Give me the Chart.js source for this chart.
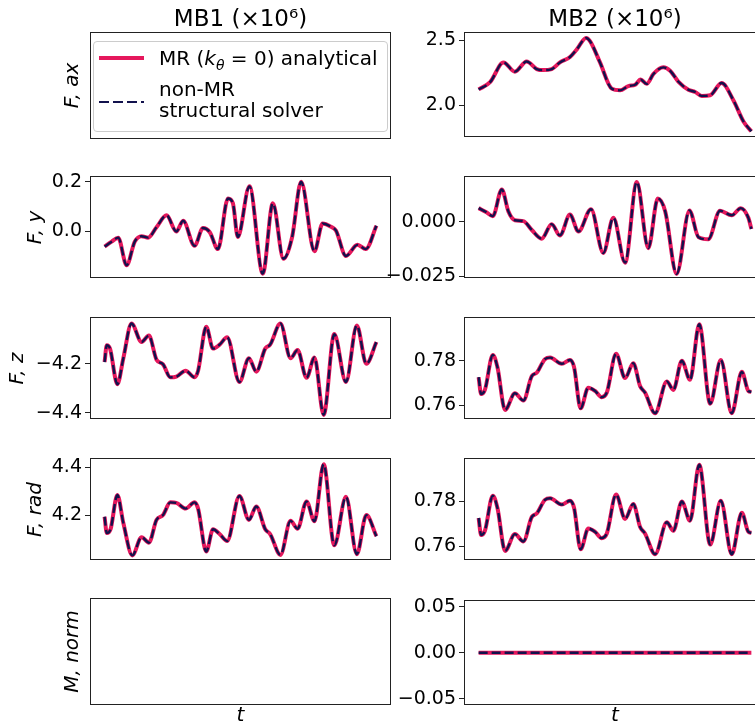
<!DOCTYPE html>
<html lang="en">
<head>
<meta charset="UTF-8">
<title>MB1 / MB2 loads: MR analytical vs non-MR structural solver</title>
<script src="https://cdn.jsdelivr.net/npm/chart.js@4.4.0/dist/chart.umd.min.js"></script>
<style>
    html, body { margin: 0; padding: 0; background: #fff; }
    #fig { position: relative; width: 755px; height: 725px; overflow: hidden; font-family: 'DejaVu Sans', sans-serif; color: #000; }
    #fig canvas { position: absolute; }
    #legend { position: absolute; left: 93px; top: 41px; width: 293px; height: 89px; border: 1px solid #cccccc; border-radius: 4px; background: rgba(255,255,255,0.8); z-index: 5; font-size: 20px; }
    #legend .sw { position: absolute; left: 5px; width: 45px; }
    #legend .txt { position: absolute; left: 65px; line-height: 21px; white-space: nowrap; }
    #legend .sub { font-size: 14px; position: relative; top: 5px; font-style: italic; }
</style>
</head>
<body>
<div id="fig">
    <div id="legend">
        <div class="sw" id="swAnalytical" style="top:14px;height:3.5px"></div>
        <div class="txt" style="top:5.6px">MR (<i>k</i><span class="sub">θ</span> = 0) analytical</div>
        <div class="sw" id="swSolver" style="top:59px;height:2.4px"></div>
        <div class="txt" style="top:37.3px">non-MR<br>structural solver</div>
    </div>
</div>
<script>
    // time axis runs 0..100 (no ticks shown) (x10^6)
    // the analytical and solver curves coincide, so both use the same arrays

    // MB2, F_ax
    const mb2AxT = [0, 4.2, 9.1, 13.3, 17.6, 21.3, 23.7, 26.8, 29.8, 33.5, 36.0, 39.4, 40.9, 44.5, 48.8, 51.9, 54.9, 57.4, 59.4, 61.6, 64.1, 67.7, 70.2, 73.2, 76.9, 79.4, 81.8, 84.9, 89.1, 93.4, 97.1, 100];
    const mb2AxV = [2.121, 2.177, 2.329, 2.258, 2.336, 2.278, 2.270, 2.278, 2.329, 2.371, 2.430, 2.518, 2.492, 2.329, 2.127, 2.114, 2.147, 2.157, 2.197, 2.164, 2.240, 2.291, 2.265, 2.182, 2.119, 2.101, 2.071, 2.076, 2.170, 2.038, 1.874, 1.798];

    // MB1, F_y
    const mb1FyT = [0, 2.6, 5.0, 8.1, 11.1, 13.6, 16.0, 19.1, 22.8, 26.4, 28.9, 33.1, 36.2, 38.7, 41.7, 45.4, 47.2, 49.0, 53.3, 58.2, 61.9, 65.8, 69.0, 72.3, 77.2, 80.2, 83.3, 85.1, 88.8, 93.0, 96.1, 100];
    const mb1FyV = [-0.061, -0.041, -0.025, -0.136, -0.041, -0.019, -0.025, 0.017, 0.065, 0.000, 0.043, -0.058, 0.014, -0.003, -0.071, 0.133, 0.114, -0.022, 0.182, -0.170, 0.114, -0.110, -0.022, 0.200, -0.080, 0.032, 0.019, 0.004, -0.099, -0.054, -0.071, 0.023];

    // MB2, F_y
    const mb2FyT = [0, 2.7, 5.2, 8.5, 10.9, 13.3, 16.4, 19.5, 23.1, 26.8, 29.8, 33.5, 36.6, 41.2, 45.7, 49.4, 53.7, 58.0, 62.2, 65.7, 68.4, 72.6, 77.3, 80.6, 84.2, 88.5, 92.8, 96.1, 98.9, 100];
    const mb2FyV = [0.0064, 0.0046, 0.0027, 0.0150, 0.0049, 0.0008, 0.0004, -0.0037, -0.0077, -0.0010, -0.0062, 0.0034, -0.0044, 0.0059, -0.0143, 0.0019, -0.0188, 0.0185, -0.0121, 0.0108, 0.0049, -0.0240, 0.0053, -0.0070, -0.0080, 0.0052, 0.0031, 0.0064, 0.0019, -0.0032];

    // MB1, F_z
    const mb1FzT = [0, 0.8, 2.0, 4.7, 6.9, 9.9, 13.6, 16.3, 19.1, 21.5, 24.2, 26.4, 29.8, 33.1, 34.4, 37.4, 39.9, 42.3, 45.1, 49.6, 53.1, 55.8, 59.1, 60.9, 64.7, 68.4, 71.0, 74.3, 77.2, 80.6, 84.5, 88.8, 92.8, 96.3, 100];
    const mb1FzV = [-4.193, -4.124, -4.138, -4.283, -4.177, -4.036, -4.111, -4.085, -4.183, -4.202, -4.255, -4.252, -4.228, -4.255, -4.228, -4.049, -4.138, -4.122, -4.092, -4.274, -4.177, -4.232, -4.138, -4.122, -4.036, -4.177, -4.144, -4.257, -4.174, -4.408, -4.079, -4.274, -4.044, -4.200, -4.111];

    // MB2, F_z
    const mb2FzT = [0, 0.9, 2.3, 5.2, 6.9, 9.7, 13.3, 16.4, 19.5, 21.3, 24.3, 26.2, 30.5, 33.5, 35.0, 37.4, 40.2, 42.7, 45.1, 47.0, 50.4, 53.7, 56.7, 59.2, 61.0, 64.7, 69.0, 71.4, 74.5, 77.5, 80.9, 84.9, 88.8, 92.8, 96.5, 98.9, 100];
    const mb2FzV = [0.7726, 0.7650, 0.7669, 0.7826, 0.7771, 0.7579, 0.7654, 0.7621, 0.7731, 0.7746, 0.7807, 0.7814, 0.7786, 0.7803, 0.7771, 0.7586, 0.7679, 0.7664, 0.7636, 0.7657, 0.7831, 0.7722, 0.7789, 0.7686, 0.7657, 0.7564, 0.7707, 0.7669, 0.7800, 0.7714, 0.7964, 0.7607, 0.7803, 0.7564, 0.7750, 0.7664, 0.7660];

    // MB1, F_rad
    const mb1RadT = [0, 0.8, 2.2, 4.7, 6.9, 10.2, 13.6, 16.3, 19.1, 21.5, 24.2, 26.4, 29.8, 33.1, 34.4, 37.4, 39.9, 42.3, 45.1, 49.6, 53.1, 55.8, 59.1, 60.9, 64.7, 68.4, 71.0, 74.3, 77.2, 80.6, 84.5, 88.8, 92.8, 96.3, 100];
    const mb1RadV = [4.194, 4.126, 4.142, 4.285, 4.168, 4.033, 4.109, 4.086, 4.181, 4.201, 4.254, 4.252, 4.228, 4.254, 4.228, 4.049, 4.142, 4.122, 4.093, 4.281, 4.181, 4.237, 4.142, 4.122, 4.035, 4.177, 4.144, 4.258, 4.175, 4.413, 4.075, 4.277, 4.038, 4.201, 4.113];

    // MB2, F_rad (same trace as MB2 F_z in the figure)
    const mb2RadT = [0, 0.9, 2.3, 5.2, 6.9, 9.7, 13.3, 16.4, 19.5, 21.3, 24.3, 26.2, 30.5, 33.5, 35.0, 37.4, 40.2, 42.7, 45.1, 47.0, 50.4, 53.7, 56.7, 59.2, 61.0, 64.7, 69.0, 71.4, 74.5, 77.5, 80.9, 84.9, 88.8, 92.8, 96.5, 98.9, 100];
    const mb2RadV = [0.7726, 0.7650, 0.7669, 0.7826, 0.7771, 0.7579, 0.7654, 0.7621, 0.7731, 0.7746, 0.7807, 0.7814, 0.7786, 0.7803, 0.7771, 0.7586, 0.7679, 0.7664, 0.7636, 0.7657, 0.7831, 0.7722, 0.7789, 0.7686, 0.7657, 0.7564, 0.7707, 0.7669, 0.7800, 0.7714, 0.7964, 0.7607, 0.7803, 0.7564, 0.7750, 0.7664, 0.7660];

    // MB2, M_norm
    const mb2MnormT = [0, 100];
    const mb2MnormV = [0, 0];

    // tick values per panel
    const mb2AxTicks = [2.0, 2.5];
    const mb1FyTicks = [0.0, 0.2];
    const mb2FyTicks = [-0.025, 0.0];
    const mb1FzTicks = [-4.4, -4.2];
    const mb2FzTicks = [0.76, 0.78];
    const mb1RadTicks = [4.2, 4.4];
    const mb2RadTicks = [0.76, 0.78];
    const mb2MnormTicks = [-0.05, 0.0, 0.05];

    const colTitles = ['MB1 (×10⁶)', 'MB2 (×10⁶)'];
    const rowLabels = ['F, ax', 'F, y', 'F, z', 'F, rad', 'M, norm'];

    const PINK = '#e5175c';
    const NAVY = '#12124d';
    const FRAME = '#222222';

    document.getElementById('swAnalytical').style.background = PINK;
    document.getElementById('swSolver').style.background =
        `repeating-linear-gradient(90deg, ${NAVY} 0 10px, transparent 10px 14px)`;

    Chart.defaults.font.family = "'DejaVu Sans', sans-serif";
    Chart.defaults.color = '#000';

    // panel layout
    const rowTop = [33, 175, 316, 457, 599];
    const plotH = 105;
    const colGeom = [
        { canvasLeft: 0, yWidth: 91, canvasWidth: 393, padRight: 3 },
        { canvasLeft: 380, yWidth: 85, canvasWidth: 385, padRight: 0 }
    ];

    const panels = [
        { row: 0, col: 0, labelPad: 61 },
        { row: 0, col: 1, t: mb2AxT, v: mb2AxV, ticks: mb2AxTicks, dec: 1, min: 1.765, max: 2.556 },
        { row: 1, col: 0, labelPad: 24, t: mb1FyT, v: mb1FyV, ticks: mb1FyTicks, dec: 1, min: -0.186, max: 0.218 },
        { row: 1, col: 1, t: mb2FyT, v: mb2FyV, ticks: mb2FyTicks, dec: 3, min: -0.0257, max: 0.0206 },
        { row: 2, col: 0, labelPad: 6, t: mb1FzT, v: mb1FzV, ticks: mb1FzTicks, dec: 1, min: -4.423, max: -4.015 },
        { row: 2, col: 1, t: mb2FzT, v: mb2FzV, ticks: mb2FzTicks, dec: 2, min: 0.754, max: 0.799 },
        { row: 3, col: 0, labelPad: 24, t: mb1RadT, v: mb1RadV, ticks: mb1RadTicks, dec: 1, min: 4.0155, max: 4.433 },
        { row: 3, col: 1, t: mb2RadT, v: mb2RadV, ticks: mb2RadTicks, dec: 2, min: 0.754, max: 0.7988 },
        { row: 4, col: 0, labelPad: 61 },
        { row: 4, col: 1, t: mb2MnormT, v: mb2MnormV, ticks: mb2MnormTicks, dec: 2, min: -0.0556, max: 0.0556 }
    ];

    // draws the four-sided axes box
    const framePlugin = {
        id: 'frame',
        afterDatasetsDraw(chart) {
            const { ctx, chartArea: a } = chart;
            ctx.save();
            ctx.strokeStyle = FRAME;
            ctx.lineWidth = 1;
            ctx.strokeRect(Math.round(a.left) - 0.5, Math.round(a.top) - 0.5,
                Math.round(a.right - a.left) + 1, Math.round(a.bottom - a.top) + 1);
            ctx.restore();
        }
    };

    function fmt(v, dec) {
        return v.toFixed(dec).replace('-', '\u2212');
    }

    function toPoints(t, v) {
        return t.map((x, i) => ({ x: x, y: v[i] }));
    }

    const fig = document.getElementById('fig');

    panels.forEach(p => {
        const g = colGeom[p.col];
        const isTop = p.row === 0;
        const isBottom = p.row === 4;
        const padTop = isTop ? 0 : 12;
        const padBottom = isBottom ? 0 : 12;
        const xTitleH = isBottom ? 24 : 0;
        const canvasTop = isTop ? 0 : rowTop[p.row] - padTop;
        const canvasH = (isTop ? rowTop[0] : padTop) + plotH + padBottom + xTitleH;

        const canvas = document.createElement('canvas');
        canvas.width = g.canvasWidth;
        canvas.height = canvasH;
        canvas.style.left = g.canvasLeft + 'px';
        canvas.style.top = canvasTop + 'px';
        fig.appendChild(canvas);

        const hasData = !!p.t;
        const datasets = hasData ? [
            {
                label: 'non-MR structural solver',
                data: toPoints(p.t, p.v),
                borderColor: NAVY,
                borderWidth: 2.4,
                borderDash: [9, 4],
                borderCapStyle: 'butt',
                pointRadius: 0,
                cubicInterpolationMode: 'monotone',
                order: 1
            },
            {
                label: 'MR (k_θ = 0) analytical',
                data: toPoints(p.t, p.v),
                borderColor: PINK,
                borderWidth: 4,
                borderCapStyle: 'butt',
                borderJoinStyle: 'round',
                pointRadius: 0,
                cubicInterpolationMode: 'monotone',
                order: 2
            }
        ] : [];

        const yTicks = p.ticks || [];

        new Chart(canvas, {
            type: 'line',
            data: { datasets: datasets },
            plugins: [framePlugin],
            options: {
                responsive: false,
                animation: false,
                events: [],
                layout: { padding: { top: padTop, bottom: padBottom, left: 0, right: g.padRight } },
                plugins: {
                    legend: { display: false },
                    tooltip: { enabled: false },
                    title: {
                        display: isTop,
                        text: colTitles[p.col],
                        fullSize: false,
                        color: '#000',
                        font: { size: 23, weight: 'normal', lineHeight: 1 },
                        padding: { top: 9, bottom: 1 }
                    }
                },
                scales: {
                    x: {
                        type: 'linear',
                        min: -5,
                        max: 105,
                        display: isBottom,
                        ticks: { display: false },
                        grid: { display: false },
                        border: { display: false },
                        title: {
                            display: isBottom,
                            text: 't',
                            color: '#000',
                            font: { size: 20, style: 'italic' },
                            padding: 0
                        },
                        afterFit: s => { s.height = xTitleH; }
                    },
                    y: {
                        type: 'linear',
                        min: hasData ? p.min : 0,
                        max: hasData ? p.max : 1,
                        ticks: {
                            display: hasData,
                            padding: 3,
                            color: '#000',
                            font: { size: 19 },
                            callback: v => fmt(v, p.dec)
                        },
                        grid: {
                            display: hasData,
                            drawOnChartArea: false,
                            drawTicks: true,
                            tickLength: 6,
                            tickColor: FRAME,
                            tickWidth: 1
                        },
                        border: { display: false },
                        title: {
                            display: p.col === 0,
                            text: rowLabels[p.row],
                            color: '#000',
                            font: { size: 20, style: 'italic', lineHeight: 1.2 },
                            padding: { top: p.labelPad || 0, bottom: 0 }
                        },
                        afterBuildTicks: s => { s.ticks = yTicks.map(v => ({ value: v })); },
                        afterFit: s => { s.width = g.yWidth; }
                    }
                }
            }
        });
    });
</script>
</body>
</html>
